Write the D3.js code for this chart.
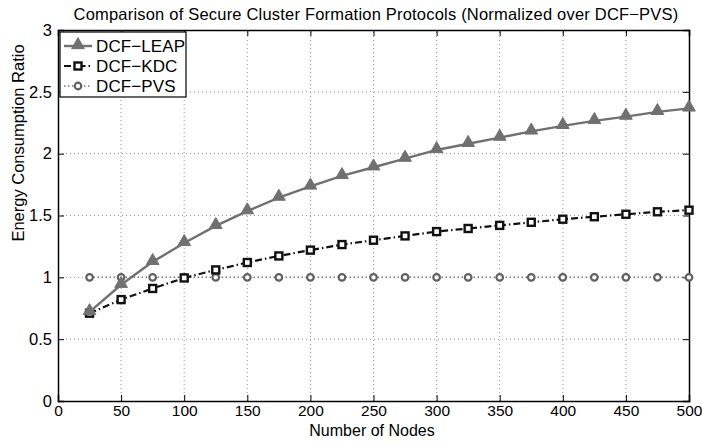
<!DOCTYPE html>
<html>
<head>
<meta charset="utf-8">
<script src="https://cdn.jsdelivr.net/npm/d3@7"></script>
<style>
  body { margin: 0; background: #fff; }
  svg { display: block; font-family: "Liberation Sans", Arial, sans-serif; }
</style>
</head>
<body>
<svg id="chart"></svg>
<script>
var width = 702;
var height = 443;
var margin = {top: 30, left: 58, right: 13, bottom: 42};

// data
var nodes = [25, 50, 75, 100, 125, 150, 175, 200, 225, 250, 275, 300, 325, 350, 375, 400, 425, 450, 475, 500];
var leap = [0.72, 0.94, 1.125, 1.278, 1.416, 1.535, 1.645, 1.735, 1.82, 1.89, 1.96, 2.03, 2.08, 2.13, 2.18, 2.225, 2.265, 2.30, 2.338, 2.366];
var kdc = [0.71, 0.82, 0.91, 0.995, 1.06, 1.12, 1.173, 1.22, 1.265, 1.30, 1.335, 1.37, 1.395, 1.42, 1.445, 1.47, 1.49, 1.51, 1.53, 1.543];
var pvs = [1, 1, 1, 1, 1, 1, 1, 1, 1, 1, 1, 1, 1, 1, 1, 1, 1, 1, 1, 1];
var xTicks = [0, 50, 100, 150, 200, 250, 300, 350, 400, 450, 500];
var yTicks = [0, 0.5, 1, 1.5, 2, 2.5, 3];
var seriesNames = ["DCF\u2212LEAP", "DCF\u2212KDC", "DCF\u2212PVS"];

var svg = d3.select('#chart').attr('width', width).attr('height', height);

var x = d3.scaleLinear().domain([0, 500]).range([margin.left, width - margin.right]);
var y = d3.scaleLinear().domain([0, 3]).range([height - margin.bottom, margin.top]);

// grid
var grid = svg.append('g');
grid.selectAll('.gx').data(xTicks.slice(1, -1)).enter().append('line')
  .attr('x1', function(d){ return x(d); }).attr('x2', function(d){ return x(d); })
  .attr('y1', y(0)).attr('y2', y(3))
  .attr('stroke', '#999').attr('stroke-width', 1).attr('stroke-dasharray', '1,3');
grid.selectAll('.gy').data(yTicks.slice(1, -1)).enter().append('line')
  .attr('y1', function(d){ return y(d); }).attr('y2', function(d){ return y(d); })
  .attr('x1', x(0)).attr('x2', x(500))
  .attr('stroke', '#999').attr('stroke-width', 1).attr('stroke-dasharray', '1,3');

// axes (ticks pointing inward, like matlab)
var xAxis = d3.axisBottom(x).tickValues(xTicks).tickSize(-6).tickPadding(4).tickFormat(d3.format('d'));
var yAxis = d3.axisLeft(y).tickValues(yTicks).tickSize(-6).tickPadding(6).tickFormat(function(d){ return String(d); });
var xTop = d3.axisTop(x).tickValues(xTicks).tickSize(-6).tickFormat('');
var yRight = d3.axisRight(y).tickValues(yTicks).tickSize(-6).tickFormat('');

var gx = svg.append('g').attr('transform', 'translate(0,' + y(0) + ')').call(xAxis);
var gy = svg.append('g').attr('transform', 'translate(' + x(0) + ',0)').call(yAxis);
svg.append('g').attr('transform', 'translate(0,' + y(3) + ')').call(xTop);
svg.append('g').attr('transform', 'translate(' + x(500) + ',0)').call(yRight);
svg.selectAll('.domain').attr('stroke', '#000').attr('stroke-width', 1.5);
svg.selectAll('.tick line').attr('stroke', '#000');
svg.selectAll('.tick text').attr('fill', '#000')
  .attr('font-family', '"Liberation Sans", Arial, sans-serif');
gx.selectAll('.tick text').attr('font-size', 15.5);
gy.selectAll('.tick text').attr('font-size', 16.5);

// series
var line = d3.line().x(function(d){ return x(d[0]); }).y(function(d){ return y(d[1]); });
function pts(vals){ return nodes.map(function(n, i){ return [n, vals[i]]; }); }

function triangle(g, cx, cy){
  g.append('path').attr('d', d3.symbol().type(d3.symbolTriangle).size(70)())
    .attr('transform', 'translate(' + cx + ',' + (cy - 1) + ')')
    .attr('fill', '#707070').attr('stroke', '#707070');
}
function square(g, cx, cy){
  g.append('rect').attr('x', cx - 3.5).attr('y', cy - 3.5).attr('width', 7).attr('height', 7)
    .attr('fill', '#fff').attr('stroke', '#111').attr('stroke-width', 2.4);
}
function circle(g, cx, cy){
  g.append('circle').attr('cx', cx).attr('cy', cy).attr('r', 3.3)
    .attr('fill', '#fff').attr('stroke', '#606060').attr('stroke-width', 2.2);
}

// PVS
svg.append('path').datum(pts(pvs)).attr('d', line).attr('fill', 'none')
  .attr('stroke', '#777').attr('stroke-width', 1.5).attr('stroke-dasharray', '1.5,2.5');
var gp = svg.append('g');
pts(pvs).forEach(function(p){ circle(gp, x(p[0]), y(p[1])); });

// KDC
svg.append('path').datum(pts(kdc)).attr('d', line).attr('fill', 'none')
  .attr('stroke', '#111').attr('stroke-width', 2.2).attr('stroke-dasharray', '7,3,1.5,3');
var gk = svg.append('g');
pts(kdc).forEach(function(p){ square(gk, x(p[0]), y(p[1])); });

// LEAP
svg.append('path').datum(pts(leap)).attr('d', line).attr('fill', 'none')
  .attr('stroke', '#707070').attr('stroke-width', 2.4);
var gl = svg.append('g');
pts(leap).forEach(function(p){ triangle(gl, x(p[0]), y(p[1])); });

// legend
var lg = svg.append('g');
lg.append('rect').attr('x', 60).attr('y', 32).attr('width', 126).attr('height', 65)
  .attr('fill', '#fff').attr('stroke', '#000').attr('stroke-width', 1.2);
var legY = [46, 66, 86];
lg.append('line').attr('x1', 64).attr('x2', 92).attr('y1', legY[0]).attr('y2', legY[0])
  .attr('stroke', '#707070').attr('stroke-width', 2.4);
triangle(lg, 78, legY[0]);
lg.append('line').attr('x1', 64).attr('x2', 92).attr('y1', legY[1]).attr('y2', legY[1])
  .attr('stroke', '#111').attr('stroke-width', 2.2).attr('stroke-dasharray', '7,3,1.5,3');
square(lg, 78, legY[1]);
lg.append('line').attr('x1', 64).attr('x2', 92).attr('y1', legY[2]).attr('y2', legY[2])
  .attr('stroke', '#777').attr('stroke-width', 1.5).attr('stroke-dasharray', '1.5,2.5');
circle(lg, 78, legY[2]);
lg.selectAll('text').data(seriesNames).enter().append('text')
  .attr('x', 96).attr('y', function(d, i){ return legY[i] + 6; })
  .attr('font-size', 17).attr('letter-spacing', 0.1).attr('fill', '#000')
  .text(function(d){ return d; });

// titles
svg.append('text').attr('x', 376).attr('y', 20).attr('text-anchor', 'middle')
  .attr('font-size', 16.5).attr('letter-spacing', 0.2).attr('fill', '#000')
  .text('Comparison of Secure Cluster Formation Protocols (Normalized over DCF\u2212PVS)');
svg.append('text').attr('x', 372).attr('y', 436).attr('text-anchor', 'middle')
  .attr('font-size', 16).attr('fill', '#000').text('Number of Nodes');
svg.append('text').attr('transform', 'translate(24,143) rotate(-90)')
  .attr('text-anchor', 'middle').attr('font-size', 16.5).attr('fill', '#000')
  .text('Energy Consumption Ratio');
</script>
</body>
</html>
